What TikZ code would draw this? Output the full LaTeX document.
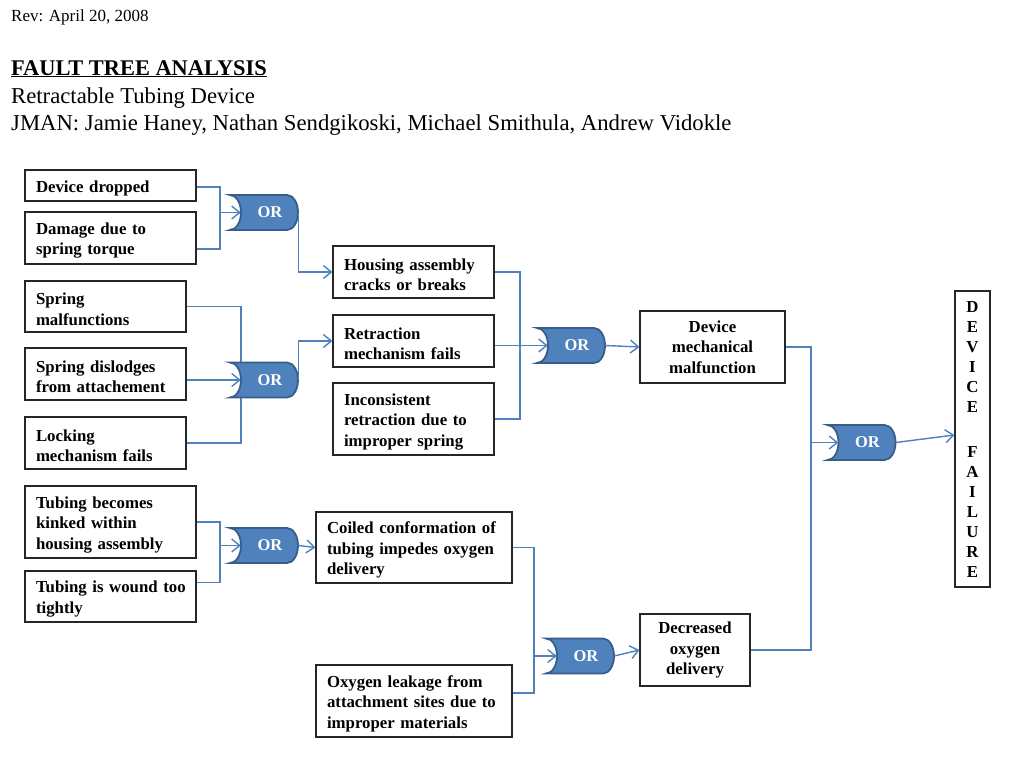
\documentclass[tikz,border=0pt]{standalone}
\usepackage{fontspec}
\setmainfont{Liberation Serif}
\usetikzlibrary{arrows.meta}
\definecolor{lineblue}{RGB}{79,129,189}
\definecolor{gatefill}{RGB}{79,129,189}
\definecolor{gateedge}{RGB}{56,93,138}
\newcommand\tstrut{\rule{0pt}{17pt}}
\newcommand\orgate[3]{%
  \draw[gateshape, shift={(#2,#3)}] (-34,-17.5) -- (23,-17.5)
    .. controls (29.1,-17.5) and (34,-9.66) .. (34,0)
    .. controls (34,9.66) and (29.1,17.5) .. (23,17.5)
    -- (-34,17.5)
    .. controls (-27.9,17.5) and (-23,9.66) .. (-23,0)
    .. controls (-23,-9.66) and (-27.9,-17.5) .. (-34,-17.5) -- cycle;
  \node[gatelabel] (#1) at (#2,#3) {\hspace{12pt}OR};%
}
\tikzset{
  box/.style={draw=black!85, line width=1.1pt, inner xsep=0pt, inner ysep=0pt,
    font=\bfseries\fontsize{16.8}{20.5}\selectfont, align=left},
  cbox/.style={draw=black!85, line width=1.1pt, inner xsep=0pt, inner ysep=0pt,
    font=\bfseries\fontsize{16.8}{20.5}\selectfont, align=center},
  gateshape/.style={fill=gatefill, draw=gateedge, line width=1.8pt},
  gatelabel/.style={minimum width=68pt, minimum height=35pt, inner sep=0pt,
    text=white, font=\bfseries\fontsize{16.5}{18}\selectfont},
  conn/.style={draw=lineblue, line width=1.4pt},
  arr/.style={conn, -{Straight Barb[length=8pt,width=13pt,line width=1.4pt]}},
}
\begin{document}
\begin{tikzpicture}[x=1pt,y=-1pt]
\useasboundingbox (0,0) rectangle (1024,768);
% header
\node[anchor=base west, inner sep=0pt, font=\fontsize{17}{20}\selectfont] (rev) at (11,22) {Rev: April 20, 2008};
\node[anchor=base west, inner sep=0pt, font=\bfseries\fontsize{22.4}{26}\selectfont] (title) at (11,75) {\underline{FAULT TREE ANALYSIS}};
\node[anchor=base west, inner sep=0pt, font=\fontsize{22.7}{26}\selectfont] (sub) at (11,103) {Retractable Tubing Device};
\node[anchor=base west, inner sep=0pt, font=\fontsize{22.7}{26}\selectfont] (auth) at (11,130) {JMAN: Jamie Haney, Nathan Sendgikoski, Michael Smithula, Andrew Vidokle};

% boxes
\node[box, minimum width=171pt, minimum height=31pt, text width=149pt] (b1) at (110.5,185.5) {\tstrut Device dropped};
\node[box, minimum width=171pt, minimum height=52pt, text width=149pt] (b2) at (110.5,238) {\tstrut Damage due to\\spring torque};
\node[box, minimum width=161pt, minimum height=51pt, text width=139pt] (b3) at (105.5,306.5) {\tstrut Spring\\malfunctions};
\node[box, minimum width=161pt, minimum height=52pt, text width=139pt] (b4) at (105.5,374) {\tstrut Spring dislodges\\from attachement};
\node[box, minimum width=161pt, minimum height=52pt, text width=139pt] (b5) at (105.5,443) {\tstrut Locking\\mechanism fails};
\node[box, minimum width=171pt, minimum height=72pt, text width=149pt] (b6) at (110.5,522) {\tstrut Tubing becomes\\kinked within\\housing assembly};
\node[box, minimum width=171pt, minimum height=51pt, text width=149pt] (b7) at (110.5,596.5) {\tstrut\mbox{Tubing is wound too}\\tightly};
\node[box, minimum width=161pt, minimum height=52pt, text width=139pt] (b8) at (413.5,272) {\tstrut Housing assembly\\cracks or breaks};
\node[box, minimum width=161pt, minimum height=52pt, text width=139pt] (b9) at (413.5,341) {\tstrut Retraction\\mechanism fails};
\node[box, minimum width=161pt, minimum height=72pt, text width=139pt] (b10) at (413.5,419) {\tstrut Inconsistent\\retraction due to\\improper spring};
\node[box, minimum width=196pt, minimum height=71pt, text width=174pt] (b11) at (414,547.5) {\tstrut Coiled conformation of\\tubing impedes oxygen\\delivery};
\node[box, minimum width=196pt, minimum height=72pt, text width=174pt] (b12) at (414,701) {\tstrut Oxygen leakage from\\attachment sites due to\\improper materials};
\node[cbox, minimum width=145pt, minimum height=72pt] (b13) at (712.5,347) {Device\\mechanical\\malfunction};
\node[cbox, minimum width=110pt, minimum height=72pt] (b14) at (695,650) {Decreased\\oxygen\\delivery};
\node[cbox, minimum width=35pt, minimum height=296pt, font=\bfseries\fontsize{16.8}{20}\selectfont] (b15) at (972.5,439)
  {D\\E\\V\\I\\C\\E\\[5pt]\\F\\A\\I\\L\\U\\R\\E};

% junctions
\coordinate (j1) at (220,212.5);
\coordinate (j2) at (241,380);
\coordinate (j3) at (220,545.5);
\coordinate (j4) at (520,345.5);
\coordinate (j5) at (534,656);
\coordinate (j6) at (811,442.5);

% connectors behind gates
\draw[conn] ([yshift=-1.5pt]b1.east) -| (j1) |- ([yshift=-11pt]b2.east);
\draw[conn] (b3.east) -| (j2) |- (b5.east);
\draw[conn] (b6.east) -| (j3) |- ([yshift=14pt]b7.east);
\draw[conn] (b8.east) -| (j4) |- (b10.east);
\draw[conn] (b11.east) -| (j5) |- ([yshift=8pt]b12.east);
\draw[conn] (b13.east) -| (j6) |- (b14.east);

% gates
\orgate{g1}{264}{212.5}
\orgate{g2}{264}{380}
\orgate{g3}{264}{545.5}
\orgate{g4}{571}{345.5}
\orgate{g5}{580}{656}
\orgate{g6}{861.5}{442.5}

% arrows into gates
\draw[arr] (j1) -- ([xshift=11pt]g1.west);
\draw[arr] (b4.east |- j2) -- ([xshift=11pt]g2.west);
\draw[arr] (j3) -- ([xshift=11pt]g3.west);
\draw[arr] (b9.east |- j4) -- ([xshift=11pt]g4.west);
\draw[arr] (j5) -- ([xshift=11pt]g5.west);
\draw[arr] (j6) -- ([xshift=11pt]g6.west);

% gate outputs
\draw[arr] (g1.east) |- (b8.west);
\draw[arr] (g2.east) |- (b9.west);
\draw[arr] (g3.east) -- (b11.west);
\draw[arr] (g4.east) -- (b13.west);
\draw[arr] (g5.east) -- (b14.west);
\draw[arr] (g6.east) -- ([yshift=4pt]b15.west);
\end{tikzpicture}
\end{document}
